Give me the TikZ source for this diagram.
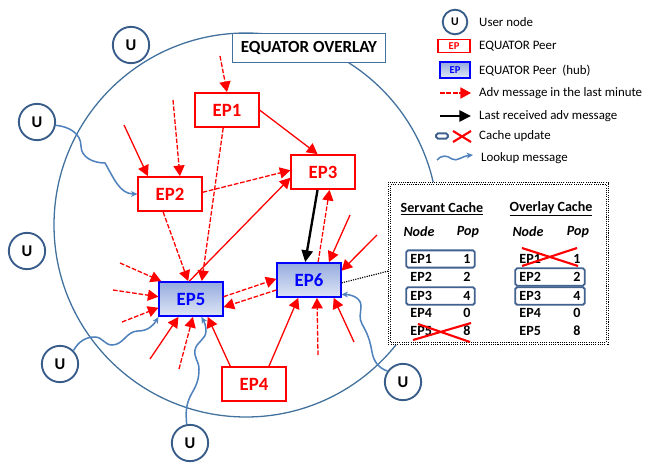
\documentclass[tikz,border=0pt]{standalone}
\usepackage{fontspec}
\setmainfont{Carlito}
\usetikzlibrary{arrows.meta,calc,fit}
\definecolor{ringblue}{RGB}{65,113,156}
\definecolor{userblue}{RGB}{56,93,138}
\definecolor{lookblue}{RGB}{79,129,189}
\definecolor{cacheblue}{RGB}{65,98,143}
\definecolor{hubtop}{RGB}{150,172,222}
\definecolor{hubbot}{RGB}{222,230,246}
\tikzset{
	peer/.style={draw=red, line width=1.6pt, fill=white, text=red, font=\bfseries\fontsize{16}{16}\selectfont, minimum width=54pt, minimum height=29pt}, % plain peer
	hub/.style={peer, draw=blue, text=blue, top color=hubtop, bottom color=hubbot}, % peer acting as hub
	user/.style={circle, draw=userblue, line width=1.6pt, fill=white, minimum size=31pt, inner sep=0pt, font=\bfseries\fontsize{14}{14}\selectfont},
	adv/.style={-{Triangle[length=9pt,width=9.5pt]}, red, line width=1.1pt, dash pattern=on 4pt off 1.5pt}, % adv message
	advsolid/.style={adv, solid},
	last/.style={-{Triangle[length=10pt,width=9.5pt]}, black, line width=2pt}, % last received adv
	lookup/.style={-{Stealth[length=5.5pt,width=5pt]}, lookblue, line width=1.3pt},
	hilite/.style={draw=cacheblue, line width=1.6pt, rounded corners=1.5pt, inner sep=2.3pt},
	cross/.style={red, line width=1.8pt},
	celltxt/.style={font=\bfseries\fontsize{12}{12}\selectfont, inner sep=1pt},
	legtxt/.style={anchor=west, inner sep=0pt, font=\fontsize{11}{11}\selectfont},
}

\begin{document}
\begin{tikzpicture}[x=0.03cm, y=0.03cm]
	\useasboundingbox (0,0) rectangle (645,464);
	% the overlay
	\draw[ringblue, line width=1.1pt] (246,239) circle[radius=192];
	\node[draw=ringblue, line width=0.8pt, fill=white, minimum width=131pt, minimum height=25pt, font=\bfseries\fontsize{14.5}{14.5}\selectfont] (OVERLAY) at (309,416) {EQUATOR OVERLAY};
	\node[draw, densely dotted, line width=0.9pt, fill=white, minimum width=188pt, minimum height=139pt] (CACHE) at (498.5,200.5) {};
	\draw[densely dotted, line width=0.9pt] ([shift={(3,3)}]CACHE.south west) rectangle ([shift={(-3,-3)}]CACHE.north east);

	% peers
	\node[peer] (EP1) at (227,354) {EP1};
	\node[peer] (EP2) at (170,270) {EP2};
	\node[peer] (EP3) at (323,292) {EP3};
	\node[peer] (EP4) at (254,80) {EP4};
	\node[hub] (EP5) at (191,165) {EP5};
	\node[hub] (EP6) at (309,184) {EP6};

	% users
	\node[user] (U_N) at (131,419) {U};
	\node[user] (U_W) at (37,342) {U};
	\node[user] (U_W2) at (27,213) {U};
	\node[user] (U_SW) at (60,100) {U};
	\node[user] (U_S) at (190,21) {U};
	\node[user] (U_SE) at (403,82) {U};

	% adv messages coming from outside
	\coordinate (IN_EP1) at (220,408);
	\coordinate (IN_EP2a) at (124,339);
	\coordinate (IN_EP2b) at (173,364);
	\coordinate (IN_EP6a) at (350,249);
	\coordinate (IN_EP6b) at (377,229);
	\coordinate (IN_EP6c) at (318,109);
	\coordinate (IN_EP6d) at (354,122);
	\coordinate (IN_EP5a) at (120,201);
	\coordinate (IN_EP5b) at (113,174);
	\coordinate (IN_EP5c) at (122,142);
	\coordinate (IN_EP5d) at (150,105);
	\coordinate (IN_EP5e) at (179,95);

	\draw (IN_EP1) edge[adv] (EP1.north);
	\draw (IN_EP2a) edge[advsolid] (EP2.141);
	\draw (IN_EP2b) edge[adv] (EP2.61);
	\draw (IN_EP6a) edge[advsolid] (EP6.42);
	\draw (IN_EP6b) edge[advsolid] (EP6.16);
	\draw (IN_EP6c) edge[adv] (EP6.294);
	\draw (IN_EP6d) edge[advsolid] (EP6.324);
	\draw (IN_EP5a) edge[adv] (EP5.149);
	\draw (IN_EP5b) edge[adv] (EP5.176);
	\draw (IN_EP5c) edge[adv] (EP5.195);
	\draw (IN_EP5d) edge[advsolid] (EP5.235);
	\draw (IN_EP5e) edge[adv] (EP5.276);

	% adv messages between peers
	\draw (EP1.east) edge[advsolid] (EP3.107);
	\draw (EP2.3) edge[adv] (EP3.177);
	\draw (EP5.95) edge[advsolid] (EP3.190);
	\draw (EP1.258) edge[adv] (EP5.59);
	\draw (EP2.249) edge[adv] (EP5.99);
	\draw (EP6.63) edge[adv] (EP3.290);
	\draw (EP5.4) edge[adv] (EP6.178);
	\draw (EP6.197) edge[adv] (EP5.346);
	\draw (EP4.143) edge[advsolid] (EP5.313);
	\draw (EP4.50) edge[advsolid] (EP6.239);
	\draw (EP3.253) edge[last] (EP6.102);

	% lookups
	\draw[lookup] (U_W.-10) to[out=-5,in=90] (81,318) to[out=-90,in=180] (105,301) to[out=-60,in=180] (EP2.west);
	\draw[lookup] (U_SW.45) to[out=60,in=180] (95,127) to[out=0,in=180] (112,119) to[out=0,in=180] (138,133) to[out=0,in=-120] (EP5.south west);
	\draw[lookup] (U_S.100) to[out=95,in=-120] (192,71) to[out=60,in=-90] (199,95) to[out=90,in=-100] (195,114) to[out=80,in=-90] (206,133) to[out=90,in=-60] (EP5.300);
	\draw[lookup] (U_SE.145) to[out=160,in=-80] (372,112) to[out=100,in=-60] (362,140) to[out=120,in=-90] (361,158) to[out=90,in=0] (EP6.336);

	% cache tables
	\draw[densely dotted, line width=1pt] (EP6.355) -- (CACHE.184);
	\node[celltxt] (S_HEAD) at (442,255) {\underline{Servant Cache}};
	\node[celltxt] (O_HEAD) at (551,255) {\underline{Overlay Cache}};
	\node[celltxt, font=\bfseries\itshape\fontsize{12}{12}\selectfont] (S_NODE) at (419,232) {Node};
	\node[celltxt, font=\bfseries\itshape\fontsize{12}{12}\selectfont] (S_POP) at (468,232) {Pop};
	\node[celltxt, font=\bfseries\itshape\fontsize{12}{12}\selectfont] (O_NODE) at (528,232) {Node};
	\node[celltxt, font=\bfseries\itshape\fontsize{12}{12}\selectfont] (O_POP) at (578,232) {Pop};
	\foreach \n/\y/\p in {1/205/1, 2/187/2, 3/168/4, 4/151/0, 5/133/8} {
		\node[celltxt, anchor=west] (S\n) at (409,\y) {EP\n};
		\node[celltxt, anchor=east] (SP\n) at (472,\y) {\p};
		\node[celltxt, anchor=west] (O\n) at (518,\y) {EP\n};
		\node[celltxt, anchor=east] (OP\n) at (582,\y) {\p};
	}
	\node[hilite, fit=(S1)(SP1)] (S_UPD1) {};
	\node[hilite, fit=(S3)(SP3)] (S_UPD3) {};
	\node[hilite, fit=(O2)(OP2)] (O_UPD2) {};
	\node[hilite, fit=(O3)(OP3)] (O_UPD3) {};
	\draw[cross] (413,124) -- (471,141) (418,140) -- (470,122);
	\draw[cross] (522,216) -- (578,198) (522,198) -- (577,216);

	% legend
	\node[user, minimum size=21pt, font=\bfseries\fontsize{10}{10}\selectfont] (L_U) at (455,442) {U};
	\node[peer, minimum width=28pt, minimum height=11pt, inner sep=0pt, font=\bfseries\fontsize{9}{9}\selectfont] (L_EP) at (454,418) {EP};
	\node[hub, minimum width=26pt, minimum height=13pt, inner sep=0pt, font=\bfseries\fontsize{9}{9}\selectfont] (L_HUB) at (455,394) {EP};
	\coordinate (L_ADV_A) at (440,371);
	\coordinate (L_ADV_B) at (471,371);
	\coordinate (L_LAST_A) at (440,348);
	\coordinate (L_LAST_B) at (471,348);
	\node[hilite, minimum width=10pt, minimum height=4.5pt, inner sep=0pt] (L_UPD) at (442,328) {};
	\coordinate (L_LOOK_A) at (437,304);
	\coordinate (L_LOOK_B) at (473,309);
	\draw (L_ADV_A) edge[adv] (L_ADV_B);
	\draw (L_LAST_A) edge[last] (L_LAST_B);
	\draw[cross] (453,322) -- (471,333) (453,333) -- (471,322);
	\draw[lookup] (L_LOOK_A) .. controls (441,309) and (447,309) .. (452,305) .. controls (457,302) and (462,308) .. (L_LOOK_B);
	\node[legtxt] (T_USER) at (479,442) {User node};
	\node[legtxt] (T_EP) at (479,418) {EQUATOR Peer};
	\node[legtxt] (T_HUB) at (479,393) {EQUATOR Peer\ \ (hub)};
	\node[legtxt] (T_ADV) at (479,371) {Adv message in the last minute};
	\node[legtxt] (T_LAST) at (479,348) {Last received adv message};
	\node[legtxt] (T_UPD) at (479,328) {Cache update};
	\node[legtxt] (T_LOOK) at (481,306) {Lookup message};
\end{tikzpicture}
\end{document}
